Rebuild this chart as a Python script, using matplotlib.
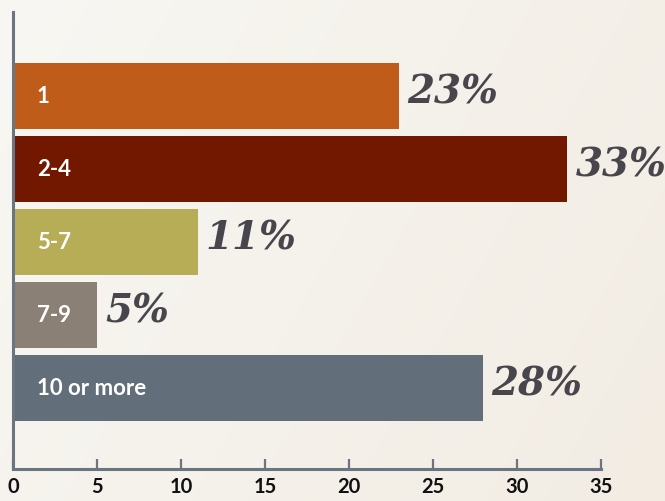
import numpy as np
import matplotlib.pyplot as plt
from matplotlib.colors import LinearSegmentedColormap

# Number of items per group and share of respondents (%)
categories = ['1', '2-4', '5-7', '7-9', '10 or more']
shares = [23, 33, 11, 5, 28]
bar_colors = ['#c05c19', '#731800', '#b8ad57', '#8b8076', '#626e7a']
x_ticks = [0, 5, 10, 15, 20, 25, 30, 35]

AXIS_COLOR = '#6b7581'
PCT_COLOR = '#48454d'

fig = plt.figure(figsize=(6.65, 5.02), dpi=100)

# soft cream background, slightly warmer to the right
bg = fig.add_axes([0, 0, 1, 1], zorder=-10)
xx, yy = np.meshgrid(np.linspace(0, 1, 200), np.linspace(0, 1, 200))
grad = 0.7 * xx + 0.3 * yy
cmap = LinearSegmentedColormap.from_list('cream', ['#f8f7f3', '#f2ece3'])
bg.imshow(grad, cmap=cmap, aspect='auto', extent=[0, 1, 0, 1])
bg.axis('off')

ax = fig.add_axes([13 / 665, 1 - 470 / 502, (601 - 13) / 665, (470 - 13) / 502])
ax.patch.set_alpha(0)

ypos = np.arange(len(categories))
ax.barh(ypos, shares, height=0.9, color=bar_colors, zorder=2)
ax.set_xlim(0, 35)
ax.set_ylim(4 + 1.11, -1.15)

for y, cat, val in zip(ypos, categories, shares):
    ax.annotate(cat, (0, y), xytext=(24, 0), textcoords='offset pixels',
                ha='left', va='center', color='white', fontsize=16,
                fontfamily='Lato', fontweight='bold', zorder=3)
    ax.annotate(f'{val}%', (val, y), xytext=(8, 4), textcoords='offset pixels',
                ha='left', va='center', color=PCT_COLOR, fontsize=28,
                fontfamily='DejaVu Serif', fontstyle='italic',
                fontweight='bold', zorder=3)

ax.set_xticks(x_ticks)
ax.set_yticks([])
ax.tick_params(axis='x', direction='in', length=7, width=1.6, color=AXIS_COLOR,
               pad=5, labelsize=14.5, labelcolor='#111111')
for lbl in ax.get_xticklabels():
    lbl.set_fontfamily('Lato')
    lbl.set_fontweight('bold')

for side in ['top', 'right']:
    ax.spines[side].set_visible(False)
for side in ['left', 'bottom']:
    ax.spines[side].set_color(AXIS_COLOR)
    ax.spines[side].set_linewidth(2.2)
ax.spines['left'].set_zorder(4)

fig.savefig('out.png', dpi=100)
